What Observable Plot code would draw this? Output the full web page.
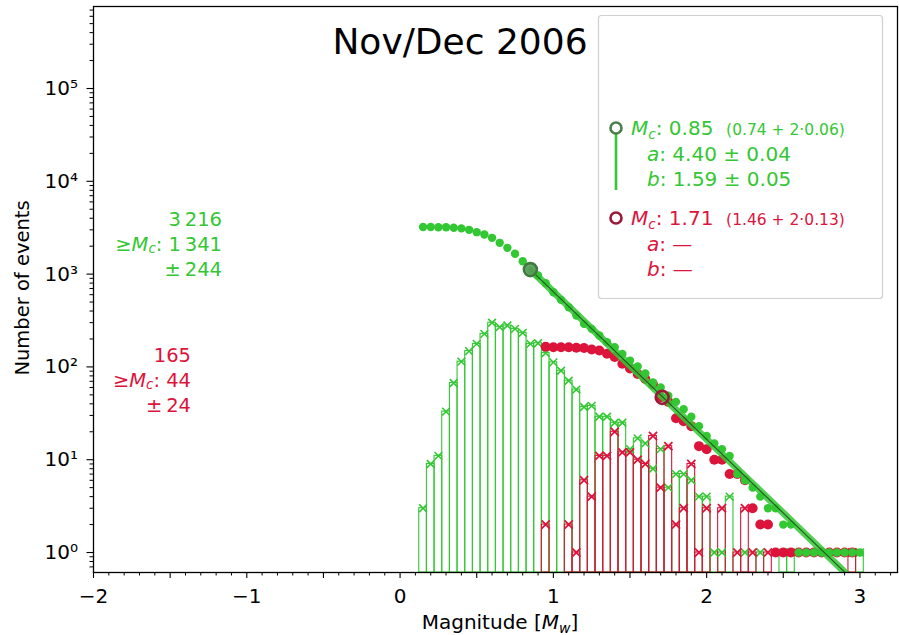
<!DOCTYPE html>
<html>
<head>
<meta charset="utf-8">
<script src="https://cdn.jsdelivr.net/npm/d3@7"></script>
<script src="https://cdn.jsdelivr.net/npm/@observablehq/plot@0.6"></script>
<style>
  body { margin: 0; background: #fff; }
  #chart { width: 899px; height: 635px; }
  #chart svg { font-family: "DejaVu Sans", sans-serif; }
</style>
</head>
<body>
<div id="chart"></div>
<script>
// Frequency–magnitude distribution, Nov/Dec 2006, two catalogues.
const binWidth = 0.05;

// Non-cumulative histogram, full catalogue (bin centres, counts)
const greenMag = [0.15,0.20,0.25,0.30,0.35,0.40,0.45,0.50,0.55,0.60,0.65,0.70,0.75,0.80,0.85,0.90,0.95,1.00,1.05,1.10,
                  1.15,1.20,1.25,1.30,1.35,1.40,1.45,1.50,1.55,1.60,1.65,1.70,1.75,1.80,1.85,1.90,1.95,2.00,2.05,2.10,
                  2.15,2.25,2.35,2.50,2.55,3.00];
const greenCount = [3,9,11,33,67,114,148,177,227,299,268,279,257,233,177,180,141,112,91,71,
                    57,37,38,29,29,25,25,13,17,15,8,13,5,7,7,6,4,4,1,1,
                    4,1,1,1,1,1];

// Non-cumulative histogram, second catalogue
const redMag = [0.95,1.10,1.15,1.20,1.25,1.30,1.35,1.40,1.45,1.50,1.55,1.60,1.65,1.70,1.75,1.80,1.85,1.90,1.95,2.00,
                2.10,2.20,2.25,2.30,2.40,2.95];
const redCount = [2,2,1,6,4,11,11,20,12,12,10,9,18,5,14,2,3,9,1,3,
                  3,1,3,1,1,1];

// Cumulative counts (events >= M), full catalogue, M = 0.15 ... 3.00
const greenCumMag = d3.range(58).map(i => +(0.15 + i * binWidth).toFixed(2));
const greenCum = [3216,3213,3204,3193,3160,3110,3000,2831,2673,2460,2173,1919,1656,1377,1112,966,798,638,528,440,
                  358,291,257,218,185,163,138,117,101,85,68,60,49,42,35,29,23,18,15,13,
                  11,7,6,5,4,3,3,2,2,1,1,1,1,1,1,1,1,1];

// Cumulative counts, second catalogue, M = 0.95 ... 2.95
const redCumMag = d3.range(41).map(i => +(0.95 + i * binWidth).toFixed(2));
const redCum = [165,163,163,163,161,160,154,150,139,128,108,96,84,74,65,47,42,28,26,23,
                14,13,10,10,7,7,6,3,2,2,1,1,1,1,1,1,1,1,1,1,1];

// Completeness magnitudes and Gutenberg–Richter fit
const mcGreen = 0.85, aGreen = 4.40, bGreen = 1.59;
const mcRed = 1.71, mcRedCount = 47;

const green = "#33c733";
const red = "#dc143c";
const yMin = 0.609, yMax = 7.65e5;

// Axis ticks
const xMajor = [-2,-1.5,-1,-0.5,0,0.5,1,1.5,2,2.5,3];
const xLabels = [-2,-1,0,1,2,3];
const xMinor = d3.range(-20, 33).map(i => i / 10).filter(v => !xMajor.some(t => Math.abs(t - v) < 1e-9));
const yMajor = [1, 10, 100, 1000, 1e4, 1e5];
const yMinor = [];
for (let k = -1; k <= 5; k++) for (let j = 2; j <= 9; j++) {
  const v = j * 10 ** k;
  if (v >= yMin && v <= yMax) yMinor.push(v);
}

const greenHist = greenMag.map((m, i) => ({m, n: greenCount[i]}));
const redHist = redMag.map((m, i) => ({m, n: redCount[i]}));
const greenCumData = greenCumMag.map((m, i) => ({m, n: greenCum[i]}));
const redCumData = redCumMag.map((m, i) => ({m, n: redCum[i]}));
const fitLine = [mcGreen, 3.0].map(m => ({m, n: 10 ** (aGreen - bGreen * m)}));
const mcPoints = [
  {m: mcGreen, n: 10 ** (aGreen - bGreen * mcGreen), c: "#3f7a3f", f: "#5c9a5c"},
  {m: mcRed, n: mcRedCount, c: "#9b1838", f: "none"}
];

const sup = {"0":"⁰","1":"¹","2":"²","3":"³","4":"⁴","5":"⁵","6":"⁶"};
const fmtX = d => xLabels.includes(d) ? (d < 0 ? "\u2212" + Math.abs(d) : String(d)) : "";
const fmtY = d => "10" + sup[String(Math.round(Math.log10(d)))];

const chart = Plot.plot({
  width: 899,
  height: 635,
  marginLeft: 93,
  marginRight: 2,
  marginTop: 6,
  marginBottom: 63,
  style: {fontFamily: "DejaVu Sans, sans-serif", fontSize: "20px", background: "white", color: "black"},
  x: {domain: [-2, 3.245]},
  y: {type: "log", domain: [yMin, yMax]},
  marks: [
    Plot.axisX({ticks: xMinor, tickSize: 3.5, tickFormat: () => "", label: null, strokeWidth: 1}),
    Plot.axisX({ticks: xMajor, tickSize: 6, tickPadding: 10, tickFormat: fmtX, fontSize: 20, label: null, strokeWidth: 1.1}),
    Plot.axisY({ticks: yMinor, tickSize: 3.5, tickFormat: () => "", label: null, strokeWidth: 1}),
    Plot.axisY({ticks: yMajor, tickSize: 6.5, tickPadding: 9, tickFormat: fmtY, fontSize: 20, label: null, strokeWidth: 1.1}),

    // histograms (outlined bars) with markers on top
    Plot.rect(greenHist, {x1: d => d.m - binWidth / 2, x2: d => d.m + binWidth / 2, y1: yMin, y2: "n",
                          fill: "none", stroke: green, strokeWidth: 1.1}),
    Plot.rect(redHist, {x1: d => d.m - binWidth / 2, x2: d => d.m + binWidth / 2, y1: yMin, y2: "n",
                        fill: "none", stroke: red, strokeWidth: 1.1}),
    Plot.dot(greenHist, {x: "m", y: "n", symbol: "times", r: 3.6, stroke: green, strokeWidth: 1.6}),
    Plot.dot(redHist, {x: "m", y: "n", symbol: "times", r: 3.8, stroke: red, strokeWidth: 1.8}),

    // cumulative distributions
    Plot.dot(redCumData, {x: "m", y: "n", r: 5, fill: red}),
    Plot.dot(greenCumData, {x: "m", y: "n", r: 4.2, fill: green}),

    // Gutenberg–Richter fit above Mc
    Plot.line(fitLine, {x: "m", y: "n", stroke: green, strokeWidth: 7, strokeOpacity: 0.85, clip: true}),
    Plot.line(fitLine, {x: "m", y: "n", stroke: "#1e5a1e", strokeWidth: 1.1, clip: true}),

    // completeness magnitudes
    Plot.dot(mcPoints, {x: "m", y: "n", r: 6.5, stroke: "c", strokeWidth: 2.6, fill: "f", fillOpacity: 0.85}),

    Plot.frame({stroke: "black", strokeWidth: 1.3})
  ]
});

document.getElementById("chart").appendChild(chart);

// Annotations drawn into the same SVG
const svg = d3.select(chart);
const ann = svg.append("g").attr("font-family", "DejaVu Sans, sans-serif").attr("text-anchor", "start");

// title
ann.append("text").attr("x", 460).attr("y", 54).attr("text-anchor", "middle")
  .attr("font-size", 36).attr("fill", "black").text("Nov/Dec 2006");

// axis labels
const xl = ann.append("text").attr("x", 500).attr("y", 629).attr("text-anchor", "middle")
  .attr("font-size", 20).attr("fill", "black");
xl.append("tspan").text("Magnitude [");
xl.append("tspan").attr("font-style", "italic").text("M");
xl.append("tspan").attr("font-style", "italic").attr("font-size", 14).attr("dy", 4).text("w");
xl.append("tspan").attr("dy", -4).text("]");

ann.append("text").attr("transform", "translate(29,288) rotate(-90)").attr("text-anchor", "middle")
  .attr("font-size", 19.5).attr("fill", "black").text("Number of events");

// helper for "Mc" with subscript
function mc(t, size, drop = 0.22) {
  t.append("tspan").attr("font-style", "italic").text("M");
  t.append("tspan").attr("font-style", "italic").attr("font-size", size * 0.68).attr("dy", size * drop).text("c");
  return t.append("tspan").attr("dy", -size * drop);
}

// event counts at the left
function counts(x, y0, color, total, above, err) {
  const g = ann.append("g").attr("fill", color).attr("font-size", 19.5).attr("text-anchor", "end");
  g.append("text").attr("x", x).attr("y", y0).text(total);
  const t = g.append("text").attr("x", x).attr("y", y0 + 24.5);
  t.append("tspan").text("≥");
  mc(t, 19.5, 0.15).text(": " + above);
  g.append("text").attr("x", x).attr("y", y0 + 49.5).text("±\u2009" + err);
}
counts(222, 226, green, "3\u2009216", "1\u2009341", "244");
counts(191, 362, red, "165", "44", "24");

// legend
const lg = ann.append("g").attr("text-anchor", "start");
lg.append("rect").attr("x", 598.5).attr("y", 15.5).attr("width", 284).attr("height", 283).attr("rx", 3)
  .attr("fill", "white").attr("fill-opacity", 0.85).attr("stroke", "#cfcfcf").attr("stroke-width", 1.2);

lg.append("line").attr("x1", 616).attr("x2", 616).attr("y1", 134).attr("y2", 190)
  .attr("stroke", green).attr("stroke-width", 2.6);
lg.append("circle").attr("cx", 616).attr("cy", 128).attr("r", 5.5)
  .attr("fill", "none").attr("stroke", "#4a7f4a").attr("stroke-width", 2.6);
lg.append("circle").attr("cx", 616).attr("cy", 218).attr("r", 5.5)
  .attr("fill", "none").attr("stroke", "#9b1838").attr("stroke-width", 2.6);

function legendBlock(y, color, mcText, detail, aText, bText) {
  const g = lg.append("g").attr("fill", color).attr("font-size", 20);
  const t = g.append("text").attr("x", 631).attr("y", y);
  mc(t, 20).text(": " + mcText + "  ");
  t.append("tspan").attr("font-size", 15.5).text(detail);
  const a = g.append("text").attr("x", 647).attr("y", y + 26);
  a.append("tspan").attr("font-style", "italic").text("a");
  a.append("tspan").text(": " + aText);
  const b = g.append("text").attr("x", 647).attr("y", y + 51);
  b.append("tspan").attr("font-style", "italic").text("b");
  b.append("tspan").text(": " + bText);
}
legendBlock(135, green, "0.85", "(0.74 + 2·0.06)", "4.40 ± 0.04", "1.59 ± 0.05");
legendBlock(225, red, "1.71", "(1.46 + 2·0.13)", "—", "—");
</script>
</body>
</html>
